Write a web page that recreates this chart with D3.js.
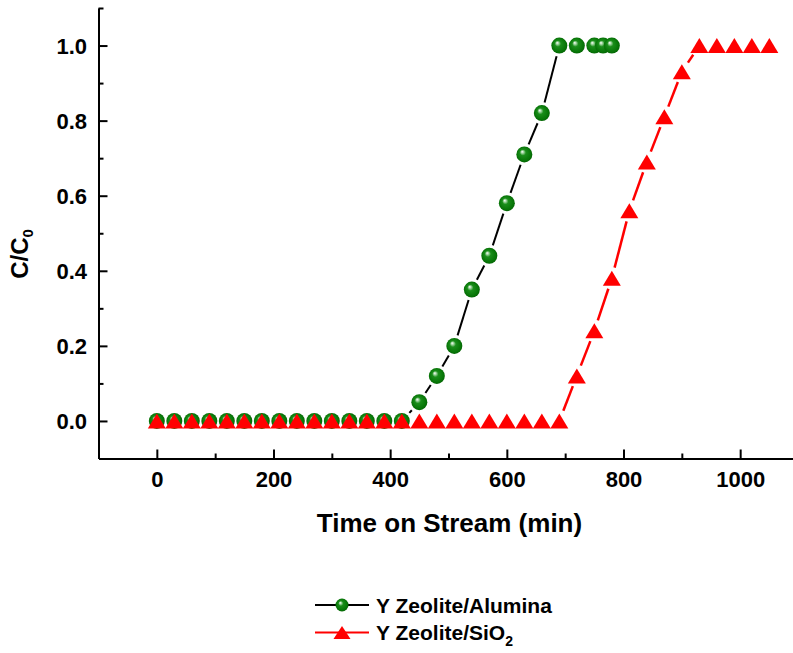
<!DOCTYPE html>
<html lang="en">
<head>
    <meta charset="utf-8">
    <title>Breakthrough curves</title>
    <style type="text/css">
        body { margin: 0; background: #fff; }
        svg { display: block; font-family: "Liberation Sans", Arial, sans-serif; font-weight: bold; }
        .axis path, .axis line { stroke: #000; stroke-width: 2; }
        .axis text { font-family: "Liberation Sans", Arial, sans-serif; font-weight: bold; font-size: 22px; fill: #000; }
    </style>
</head>
<body>
<svg class="chart" width="793" height="653"></svg>

<script src="https://cdn.jsdelivr.net/npm/d3@7/dist/d3.min.js"></script>
<script>
    // data
    var aluminaTime = [0, 30, 60, 90, 120, 150, 180, 210, 240, 270, 300, 330, 360, 390, 420,
                       450, 480, 510, 540, 570, 600, 630, 660, 690, 720, 750, 765, 780];
    var aluminaC = [0, 0, 0, 0, 0, 0, 0, 0, 0, 0, 0, 0, 0, 0, 0,
                    0.05, 0.12, 0.20, 0.35, 0.44, 0.58, 0.71, 0.82, 1.0, 1.0, 1.0, 1.0, 1.0];

    var silicaTime = [0, 30, 60, 90, 120, 150, 180, 210, 240, 270, 300, 330, 360, 390, 420,
                      450, 480, 510, 540, 570, 600, 630, 660, 690,
                      720, 750, 780, 810, 840, 870, 900, 930, 960, 990, 1020, 1050];
    var silicaC = [0, 0, 0, 0, 0, 0, 0, 0, 0, 0, 0, 0, 0, 0, 0,
                   0, 0, 0, 0, 0, 0, 0, 0, 0,
                   0.12, 0.24, 0.38, 0.56, 0.69, 0.81, 0.93, 1.0, 1.0, 1.0, 1.0, 1.0];

    var xMajor = [0, 200, 400, 600, 800, 1000],
        xMinor = [100, 300, 500, 700, 900],
        yMajor = [0, 0.2, 0.4, 0.6, 0.8, 1.0],
        yMinor = [0.1, 0.3, 0.5, 0.7, 0.9, 1.1];

    var legendNames = ['Y Zeolite/Alumina', 'Y Zeolite/SiO'];

    var svg = d3.select('.chart');

    // scales
    var x = d3.scaleLinear().domain([-100, 1100]).range([98.5, 798.5]),
        y = d3.scaleLinear().domain([-0.1, 1.1]).range([458.5, 8]);

    // sphere gradient for the green markers
    var defs = svg.append('defs');
    var grad = defs.append('radialGradient')
        .attr('id', 'sphere')
        .attr('cx', '0.5').attr('cy', '0.5').attr('r', '0.55')
        .attr('fx', '0.36').attr('fy', '0.32');
    grad.append('stop').attr('offset', '0').attr('stop-color', '#ffffff');
    grad.append('stop').attr('offset', '0.14').attr('stop-color', '#a8d8a8');
    grad.append('stop').attr('offset', '0.35').attr('stop-color', '#1a8e1a');
    grad.append('stop').attr('offset', '0.8').attr('stop-color', '#077507');
    grad.append('stop').attr('offset', '1').attr('stop-color', '#035c03');

    // axes (ticks point inward)
    var gx = svg.append('g')
        .attr('class', 'axis axis-x')
        .attr('transform', 'translate(0,' + y(-0.1) + ')')
        .call(d3.axisBottom(x).tickValues(xMajor).tickSize(-9).tickSizeOuter(0).tickFormat(d3.format('d')));
    gx.selectAll('text').attr('y', 28.5).attr('dy', 0);

    svg.append('g')
        .attr('class', 'axis axis-x-minor')
        .attr('transform', 'translate(0,' + y(-0.1) + ')')
        .call(d3.axisBottom(x).tickValues(xMinor).tickSize(-5).tickSizeOuter(0).tickFormat(''))
        .select('.domain').remove();

    var gy = svg.append('g')
        .attr('class', 'axis axis-y')
        .attr('transform', 'translate(' + x(-100) + ',0)')
        .call(d3.axisLeft(y).tickValues(yMajor).tickSize(-9).tickSizeOuter(0).tickFormat(d3.format('.1f')));
    gy.selectAll('text').attr('x', -11.5).attr('dy', 7.5);

    svg.append('g')
        .attr('class', 'axis axis-y-minor')
        .attr('transform', 'translate(' + x(-100) + ',0)')
        .call(d3.axisLeft(y).tickValues(yMinor).tickSize(-5).tickSizeOuter(0).tickFormat(''))
        .select('.domain').remove();

    // axis titles
    svg.append('text')
        .attr('x', 449.5).attr('y', 532)
        .attr('text-anchor', 'middle')
        .style('font-size', '26px')
        .text('Time on Stream (min)');

    var yt = svg.append('text')
        .attr('transform', 'translate(28,254) rotate(-90)')
        .attr('text-anchor', 'middle')
        .style('font-size', '24px');
    yt.append('tspan').text('C/C');
    yt.append('tspan').attr('dy', 5).style('font-size', '15px').text('0');

    // line segments with a gap around each symbol
    function gapSegments(xs, ys, gap) {
        var segs = [];
        for (var i = 1; i < xs.length; i++) {
            var x0 = x(xs[i - 1]), y0 = y(ys[i - 1]), x1 = x(xs[i]), y1 = y(ys[i]);
            var dx = x1 - x0, dy = y1 - y0, len = Math.sqrt(dx * dx + dy * dy);
            if (len <= 2 * gap + 1) continue;
            var ux = dx / len, uy = dy / len;
            segs.push([x0 + ux * gap, y0 + uy * gap, x1 - ux * gap, y1 - uy * gap]);
        }
        return segs;
    }

    function drawSegments(segs, color, w) {
        svg.append('g').selectAll('line')
            .data(segs).enter().append('line')
            .attr('x1', function(d) { return d[0]; })
            .attr('y1', function(d) { return d[1]; })
            .attr('x2', function(d) { return d[2]; })
            .attr('y2', function(d) { return d[3]; })
            .attr('stroke', color)
            .attr('stroke-width', w);
    }

    var tri = 'M0,-7.5L9,7.5L-9,7.5Z';

    // alumina series
    drawSegments(gapSegments(aluminaTime, aluminaC, 11), '#000', 2);
    svg.append('g').selectAll('circle')
        .data(d3.range(aluminaTime.length)).enter().append('circle')
        .attr('cx', function(i) { return x(aluminaTime[i]); })
        .attr('cy', function(i) { return y(aluminaC[i]); })
        .attr('r', 8)
        .attr('fill', 'url(#sphere)');

    // SiO2 series
    drawSegments(gapSegments(silicaTime, silicaC, 11), '#ff0000', 2.5);
    svg.append('g').selectAll('path')
        .data(d3.range(silicaTime.length)).enter().append('path')
        .attr('d', tri)
        .attr('transform', function(i) { return 'translate(' + x(silicaTime[i]) + ',' + y(silicaC[i]) + ')'; })
        .attr('fill', '#ff0000');

    // legend
    var leg = svg.append('g').attr('class', 'legend');
    var rows = [605, 632.5];

    leg.append('line').attr('x1', 315).attr('x2', 369).attr('y1', rows[0]).attr('y2', rows[0])
        .attr('stroke', '#000').attr('stroke-width', 2);
    leg.append('circle').attr('cx', 342).attr('cy', rows[0]).attr('r', 6.5).attr('fill', 'url(#sphere)');

    leg.append('line').attr('x1', 315).attr('x2', 369).attr('y1', rows[1]).attr('y2', rows[1])
        .attr('stroke', '#ff0000').attr('stroke-width', 2);
    leg.append('path').attr('d', 'M0,-6.5L8.5,6.5L-8.5,6.5Z')
        .attr('transform', 'translate(342,' + rows[1] + ')').attr('fill', '#ff0000');

    leg.append('text').attr('x', 376).attr('y', rows[0] + 7.5).style('font-size', '21px').text(legendNames[0]);
    var t2 = leg.append('text').attr('x', 376).attr('y', rows[1] + 7.5).style('font-size', '21px');
    t2.append('tspan').text(legendNames[1]);
    t2.append('tspan').attr('dy', 6).style('font-size', '14px').text('2');
</script>
</body>
</html>
